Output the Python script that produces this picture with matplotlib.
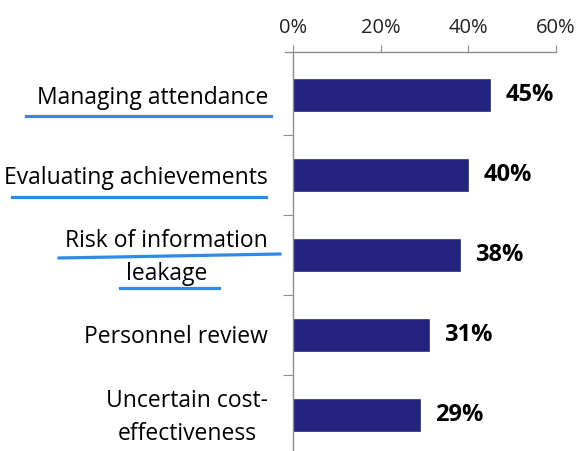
import matplotlib
matplotlib.use("Agg")
import matplotlib.pyplot as plt
from matplotlib.lines import Line2D

plt.rcParams["font.family"] = ["Open Sans", "DejaVu Sans"]

categories = [
    "Managing attendance",
    "Evaluating achievements",
    "Risk of information\nleakage",
    "Personnel review",
    "Uncertain cost-\neffectiveness",
]
values = [45, 40, 38, 31, 29]
xticks = [0, 20, 40, 60]

BAR = "#21237e"
AXIS = "#8c8c8c"
MARK = "#2e8ae6"

W, H = 579, 451
fig = plt.figure(figsize=(W / 100, H / 100), dpi=100)
ax = fig.add_axes([293 / W, 0.0, (556 - 293) / W, (H - 52) / H])

pos = list(range(len(categories)))
ax.barh(pos, values, height=0.4, color=BAR, edgecolor="#3a3d95", linewidth=0.6)
ax.set_ylim(4.45, -0.54)
ax.set_xlim(0, 60)

for p, v in zip(pos, values):
    ax.annotate(f"{v}%", (v, p), xytext=(11, 0), textcoords="offset points",
                va="center", ha="left", fontsize=17, fontweight="bold")

ax.xaxis.tick_top()
ax.set_xticks(xticks)
ax.set_xticklabels([f"{t}%" for t in xticks], fontsize=14.5, color="#222222")
ax.tick_params(axis="x", direction="out", length=5, color=AXIS, pad=5)

ax.set_yticks([p + 0.5 for p in pos[:-1]])
ax.set_yticklabels([])
ax.tick_params(axis="y", direction="out", length=7, color=AXIS)
for p, c in zip(pos, categories):
    ax.text(-25 / 4.383, p + 0.03, c, ha="right", va="center", multialignment="center",
            fontsize=16.5, linespacing=1.5, transform=ax.transData)

for s in ["right", "bottom"]:
    ax.spines[s].set_visible(False)
for s in ["top", "left"]:
    ax.spines[s].set_color(AXIS)
    ax.spines[s].set_linewidth(1.0)
ax.spines["top"].set_bounds(-1.8, 60)

# hand-drawn blue underlines (figure pixels, y from top)
underlines = [
    ((26, 116), (271, 116)),
    ((12, 197), (266, 197)),
    ((59, 258), (280, 254)),
    ((120, 288), (219, 288)),
]
for (x0, y0), (x1, y1) in underlines:
    fig.add_artist(Line2D([x0 / W, x1 / W], [1 - y0 / H, 1 - y1 / H],
                          color=MARK, linewidth=2.3, transform=fig.transFigure))

fig.savefig("out.png", dpi=100)
